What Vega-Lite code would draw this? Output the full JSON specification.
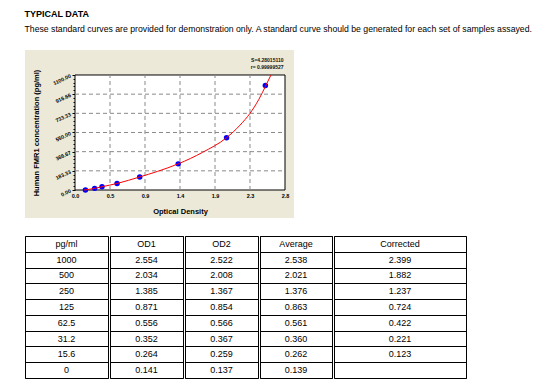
{
  "$schema": "https://vega.github.io/schema/vega-lite/v6.json",
  "background": "white",
  "padding": {"left": 24, "top": 10, "right": 5, "bottom": 5},
  "config": {
    "font": "Liberation Sans",
    "view": {"stroke": null},
    "axis": {"labelFont": "Liberation Sans", "titleFont": "Liberation Sans", "labelColor": "black", "titleColor": "black"}
  },
  "title": {
    "text": "TYPICAL DATA",
    "subtitle": "These standard curves are provided for demonstration only. A standard curve should be generated for each set of samples assayed.",
    "anchor": "start",
    "frame": "bounds",
    "font": "Liberation Sans",
    "fontSize": 9,
    "fontWeight": "bold",
    "color": "black",
    "subtitleFont": "Liberation Sans",
    "subtitleFontSize": 8.7,
    "subtitleColor": "black",
    "subtitlePadding": 6,
    "offset": 16
  },
  "datasets": {
    "std": [
      {"conc": 1000, "avg": 2.538},
      {"conc": 500, "avg": 2.021},
      {"conc": 250, "avg": 1.376},
      {"conc": 125, "avg": 0.863},
      {"conc": 62.5, "avg": 0.561},
      {"conc": 31.2, "avg": 0.36},
      {"conc": 15.6, "avg": 0.262},
      {"conc": 0, "avg": 0.139}
    ],
    "curve": [
      {"od": 0.12, "c": 0},
      {"od": 0.262, "c": 15.6},
      {"od": 0.36, "c": 31.2},
      {"od": 0.561, "c": 62.5},
      {"od": 0.863, "c": 125},
      {"od": 1.1, "c": 178},
      {"od": 1.376, "c": 250},
      {"od": 1.7, "c": 360},
      {"od": 2.02, "c": 500},
      {"od": 2.2, "c": 620},
      {"od": 2.333, "c": 733},
      {"od": 2.45, "c": 865},
      {"od": 2.545, "c": 1000},
      {"od": 2.613, "c": 1100}
    ],
    "xgrid": [{"v": 0.4667}, {"v": 0.9333}, {"v": 1.4}, {"v": 1.8667}, {"v": 2.3333}],
    "ygrid": [{"v": 183.33}, {"v": 366.67}, {"v": 550}, {"v": 733.33}, {"v": 916.66}],
    "table": [
      {"i": 0, "pg": "pg/ml", "od1": "OD1", "od2": "OD2", "avg": "Average", "cor": "Corrected"},
      {"i": 1, "pg": "1000", "od1": "2.554", "od2": "2.522", "avg": "2.538", "cor": "2.399"},
      {"i": 2, "pg": "500", "od1": "2.034", "od2": "2.008", "avg": "2.021", "cor": "1.882"},
      {"i": 3, "pg": "250", "od1": "1.385", "od2": "1.367", "avg": "1.376", "cor": "1.237"},
      {"i": 4, "pg": "125", "od1": "0.871", "od2": "0.854", "avg": "0.863", "cor": "0.724"},
      {"i": 5, "pg": "62.5", "od1": "0.556", "od2": "0.566", "avg": "0.561", "cor": "0.422"},
      {"i": 6, "pg": "31.2", "od1": "0.352", "od2": "0.367", "avg": "0.360", "cor": "0.221"},
      {"i": 7, "pg": "15.6", "od1": "0.264", "od2": "0.259", "avg": "0.262", "cor": "0.123"},
      {"i": 8, "pg": "0", "od1": "0.141", "od2": "0.137", "avg": "0.139", "cor": ""}
    ]
  },
  "spacing": 17,
  "vconcat": [
    {
      "width": 269,
      "height": 168,
      "view": {"fill": "#ECE9D8", "stroke": null},
      "resolve": {"axis": {"y": "independent", "x": "independent"}},
      "layer": [
        {
          "data": {"values": [{}]},
          "mark": {"type": "rect", "fill": "white", "stroke": "black", "strokeWidth": 1},
          "encoding": {
            "x": {"datum": 0, "type": "quantitative",
              "scale": {"domain": [-0.6667, 2.92], "nice": false, "zero": false},
              "axis": {"values": [0, 0.4667, 0.9333, 1.4, 1.8667, 2.3333, 2.8], "format": ".1f", "offset": -28,
                "domain": false, "ticks": false, "grid": false, "labelFontSize": 5.5, "labelFontWeight": "bold",
                "labelPadding": 3, "title": "Optical Density", "titleFontSize": 7.5, "titleFontWeight": "bold",
                "titleX": 155, "titleY": 21, "titleBaseline": "middle", "titleAlign": "center"}},
            "x2": {"datum": 2.8},
            "y": {"datum": 0, "type": "quantitative",
              "scale": {"domain": [-267.8, 1339.1], "nice": false, "zero": false},
              "axis": {"values": [0, 183.33, 366.67, 550, 733.33, 916.66, 1100], "format": ".2f", "offset": -50,
                "domain": false, "grid": false, "ticks": true, "tickSize": 3, "tickColor": "black",
                "labelFontSize": 5.3, "labelFontWeight": "bold", "labelAngle": -25, "labelAlign": "right", "labelBaseline": "middle",
                "labelPadding": 2, "title": "Human FMR1 concentration (pg/ml)", "titleFontSize": 7.5,
                "titleFontWeight": "bold", "titleX": -39, "titleY": 82.5, "titleAngle": -90,
                "titleBaseline": "middle", "titleAlign": "center"}},
            "y2": {"datum": 1100}
          }
        },
        {
          "data": {"name": "xgrid"},
          "mark": {"type": "rule", "color": "#8a8a8a", "strokeDash": [4, 3], "strokeWidth": 1},
          "encoding": {
            "x": {"field": "v", "type": "quantitative", "axis": null},
            "y": {"datum": 0, "type": "quantitative", "axis": null},
            "y2": {"datum": 1100}
          }
        },
        {
          "data": {"name": "ygrid"},
          "mark": {"type": "rule", "color": "#8a8a8a", "strokeDash": [4, 3], "strokeWidth": 1},
          "encoding": {
            "y": {"field": "v", "type": "quantitative",
              "axis": {"orient": "left", "offset": -50, "values": [36.67, 73.33, 110, 146.67, 220, 256.67, 293.33, 330, 403.33, 440, 476.67, 513.33, 586.67, 623.33, 660, 696.67, 770, 806.67, 843.33, 880, 953.33, 990, 1026.67, 1063.33],
                "labels": false, "ticks": true, "tickSize": 2, "tickColor": "black", "domain": false, "grid": false, "title": null}},
            "x": {"datum": 0, "type": "quantitative", "axis": null},
            "x2": {"datum": 2.8}
          }
        },
        {
          "data": {"name": "std"},
          "mark": {"type": "circle", "color": "#0000FF", "size": 30, "opacity": 1},
          "encoding": {
            "x": {"field": "avg", "type": "quantitative", "axis": null},
            "y": {"field": "conc", "type": "quantitative", "axis": null}
          }
        },
        {
          "data": {"name": "curve"},
          "mark": {"type": "line", "color": "#FF0000", "strokeWidth": 1, "interpolate": "monotone"},
          "encoding": {
            "x": {"field": "od", "type": "quantitative", "axis": null},
            "y": {"field": "c", "type": "quantitative", "axis": null}
          }
        },
        {
          "data": {"values": [{}]},
          "mark": {"type": "text", "align": "right", "baseline": "middle", "fontSize": 5, "fontWeight": "bold", "color": "#111"},
          "encoding": {
            "x": {"datum": 2.78, "type": "quantitative", "axis": null},
            "y": {"datum": 1245, "type": "quantitative", "axis": null},
            "text": {"value": "S=4.28015110"}
          }
        },
        {
          "data": {"values": [{}]},
          "mark": {"type": "text", "align": "right", "baseline": "middle", "fontSize": 5, "fontWeight": "bold", "color": "#111"},
          "encoding": {
            "x": {"datum": 2.78, "type": "quantitative", "axis": null},
            "y": {"datum": 1180, "type": "quantitative", "axis": null},
            "text": {"value": "r= 0.99999527"}
          }
        }
      ]
    },
    {
      "spacing": 0,
      "hconcat": [
        {
          "width": 83, "height": 142, "data": {"name": "table"},
          "view": {"stroke": "black", "strokeWidth": 1},
          "mark": {"type": "text", "fontSize": 9, "font": "Liberation Sans", "color": "black"},
          "encoding": {
            "y": {"field": "i", "type": "ordinal", "scale": {"paddingInner": 0, "paddingOuter": 0},
              "axis": {"grid": true, "tickBand": "extent", "gridColor": "black", "gridOpacity": 1, "gridWidth": 1, "labels": false, "ticks": false, "domain": false, "title": null, "minExtent": 0, "maxExtent": 0}},
            "text": {"field": "pg"}
          }
        },
        {
          "width": 73, "height": 142, "data": {"name": "table"},
          "view": {"stroke": "black", "strokeWidth": 1},
          "mark": {"type": "text", "fontSize": 9, "font": "Liberation Sans", "color": "black"},
          "encoding": {
            "y": {"field": "i", "type": "ordinal", "scale": {"paddingInner": 0, "paddingOuter": 0},
              "axis": {"grid": true, "tickBand": "extent", "gridColor": "black", "gridOpacity": 1, "gridWidth": 1, "labels": false, "ticks": false, "domain": false, "title": null, "minExtent": 0, "maxExtent": 0}},
            "text": {"field": "od1"}
          }
        },
        {
          "width": 73, "height": 142, "data": {"name": "table"},
          "view": {"stroke": "black", "strokeWidth": 1},
          "mark": {"type": "text", "fontSize": 9, "font": "Liberation Sans", "color": "black"},
          "encoding": {
            "y": {"field": "i", "type": "ordinal", "scale": {"paddingInner": 0, "paddingOuter": 0},
              "axis": {"grid": true, "tickBand": "extent", "gridColor": "black", "gridOpacity": 1, "gridWidth": 1, "labels": false, "ticks": false, "domain": false, "title": null, "minExtent": 0, "maxExtent": 0}},
            "text": {"field": "od2"}
          }
        },
        {
          "width": 72, "height": 142, "data": {"name": "table"},
          "view": {"stroke": "black", "strokeWidth": 1},
          "mark": {"type": "text", "fontSize": 9, "font": "Liberation Sans", "color": "black"},
          "encoding": {
            "y": {"field": "i", "type": "ordinal", "scale": {"paddingInner": 0, "paddingOuter": 0},
              "axis": {"grid": true, "tickBand": "extent", "gridColor": "black", "gridOpacity": 1, "gridWidth": 1, "labels": false, "ticks": false, "domain": false, "title": null, "minExtent": 0, "maxExtent": 0}},
            "text": {"field": "avg"}
          }
        },
        {
          "width": 132, "height": 142, "data": {"name": "table"},
          "view": {"stroke": "black", "strokeWidth": 1},
          "mark": {"type": "text", "fontSize": 9, "font": "Liberation Sans", "color": "black"},
          "encoding": {
            "y": {"field": "i", "type": "ordinal", "scale": {"paddingInner": 0, "paddingOuter": 0},
              "axis": {"grid": true, "tickBand": "extent", "gridColor": "black", "gridOpacity": 1, "gridWidth": 1, "labels": false, "ticks": false, "domain": false, "title": null, "minExtent": 0, "maxExtent": 0}},
            "text": {"field": "cor"}
          }
        }
      ]
    }
  ]
}
